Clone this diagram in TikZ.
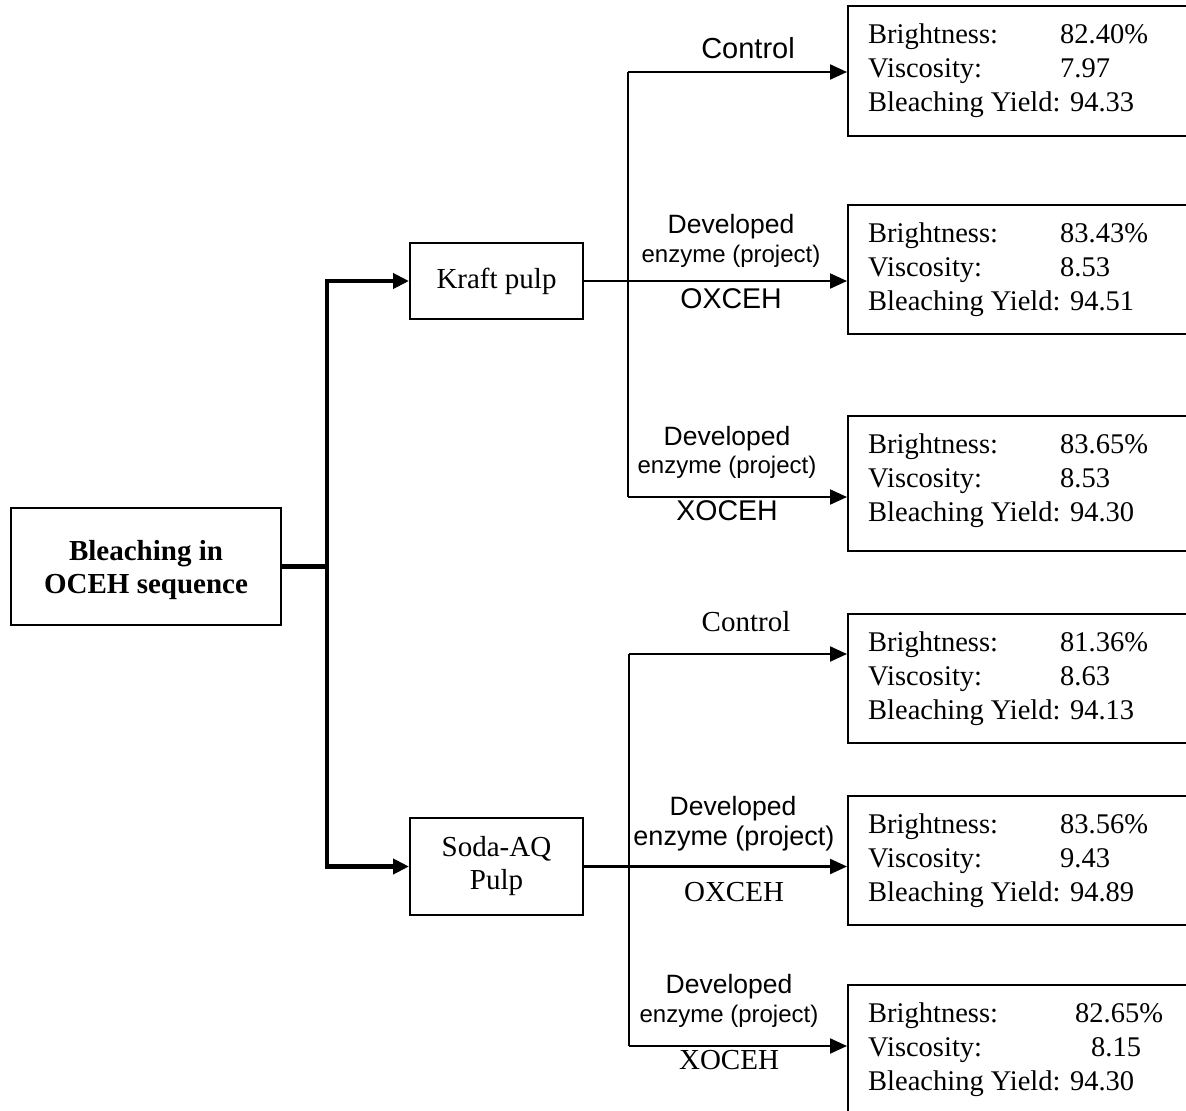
\documentclass[tikz,border=0pt]{standalone}
\usepackage{fontspec}
\setmainfont{Liberation Serif}
\setsansfont{Liberation Sans}
\usetikzlibrary{arrows.meta,calc}

\newcommand\fsz[2]{\fontsize{#1}{#2}\selectfont}

\tikzset{
  box/.style={draw, line width=2pt, rectangle, inner sep=0pt},
  maintext/.style={inner sep=0pt, align=center, font=\bfseries\fsz{29}{33}},
  pulpbox/.style={box, align=center, font=\fsz{29}{33}},
  resbox/.style={box, minimum width=360pt},
  restext/.style={inner sep=0pt, anchor=base west, font=\fsz{28.5}{34}},
  lab/.style={inner sep=0pt, anchor=base},
  thickln/.style={line width=4.5pt},
  thinln/.style={line width=2.2pt},
  thickarr/.style={thickln, -{Triangle[length=16pt,width=15pt]}},
  thinarr/.style={thinln, -{Triangle[length=17pt,width=15pt]}},
}

% result box: name, top, height, brightness, viscosity, yield
\newcommand\resultbox[6]{%
  \node[resbox, minimum height=#3pt, anchor=north west] (#1) at (847,#2) {};
  \node[restext] (#1-b) at (868,{#2+38}) {\makebox[192pt][l]{Brightness:}#4};
  \node[restext] (#1-v) at (868,{#2+72.5}) {\makebox[192pt][l]{Viscosity:}#5};
  \node[restext] (#1-y) at (868,{#2+106}) {Bleaching Yield: #6};
}

\begin{document}
\begin{tikzpicture}[x=1pt,y=-1pt]
\useasboundingbox (0,0) rectangle (1186,1111);

% source and pulp boxes
\node[box, minimum width=270pt, minimum height=117pt] (main) at (146,566.5) {};
\node[maintext] (main-t) at ($(main.center)+(0,4)$) {Bleaching in\\OCEH sequence};
\node[pulpbox, minimum width=173pt, minimum height=76pt] (kraft) at (496.5,281) {Kraft pulp};
\node[pulpbox, minimum width=173pt, minimum height=97pt] (soda) at (496.5,866.5) {Soda-AQ\\Pulp};

% results
\resultbox{r1}{5}{130}{82.40\%}{7.97}{94.33}
\resultbox{r2}{204}{129}{83.43\%}{8.53}{94.51}
\resultbox{r3}{415}{135}{83.65\%}{8.53}{94.30}
\resultbox{r4}{613}{129}{81.36\%}{8.63}{94.13}
\resultbox{r5}{795}{129}{83.56\%}{9.43}{94.89}
\resultbox{r6}{984}{160}{\hspace{15pt}82.65\%}{\hspace{31pt}8.15}{94.30}

% main split
\coordinate (jm) at (327,566.5);
\draw[thickln] (main.east) -- (jm);
\draw[thickarr] (jm) |- (kraft.west);
\draw[thickarr] (jm) |- (soda.west);

% kraft branches
\coordinate (kt) at (628,72);
\coordinate (kb) at (628,497);
\draw[thinln] (kt) -- (kb);
\draw[thinarr] (kt) -- (kt -| r1.west);
\draw[thinarr] (kraft.east) -- (kraft.east -| r2.west);
\draw[thinarr] (kb) -- (kb -| r3.west);

% soda branches
\coordinate (st) at (629,654);
\coordinate (sb) at (629,1046);
\draw[thinln] (st) -- (sb);
\draw[thinarr] (st) -- (st -| r4.west);
\draw[thinarr] (soda.east) -- (soda.east -| r5.west);
\draw[thinarr] (sb) -- (sb -| r6.west);

% branch labels
\node[lab, font=\sffamily\fsz{29}{33}] (l1) at (748,58) {Control};
\node[lab, font=\sffamily\fsz{26.5}{30}] (l2a) at (731,233) {Developed};
\node[lab, font=\sffamily\fsz{24}{28}] (l2b) at (731,262) {enzyme (project)};
\node[lab, font=\sffamily\fsz{28.5}{33}] (l2c) at (731,308) {OXCEH};
\node[lab, font=\sffamily\fsz{26.5}{30}] (l3a) at (727,445) {Developed};
\node[lab, font=\sffamily\fsz{24}{28}] (l3b) at (727,473) {enzyme (project)};
\node[lab, font=\sffamily\fsz{28.5}{33}] (l3c) at (727,520) {XOCEH};
\node[lab, font=\fsz{29}{33}] (l4) at (746,631) {Control};
\node[lab, font=\sffamily\fsz{26.5}{30}] (l5a) at (733,815) {Developed};
\node[lab, font=\sffamily\fsz{27}{30}] (l5b) at (734,845) {enzyme (project)};
\node[lab, font=\fsz{29}{33}] (l5c) at (734,901) {OXCEH};
\node[lab, font=\sffamily\fsz{26.5}{30}] (l6a) at (729,993) {Developed};
\node[lab, font=\sffamily\fsz{24}{28}] (l6b) at (729,1022) {enzyme (project)};
\node[lab, font=\fsz{29}{33}] (l6c) at (729,1069) {XOCEH};
\end{tikzpicture}
\end{document}
